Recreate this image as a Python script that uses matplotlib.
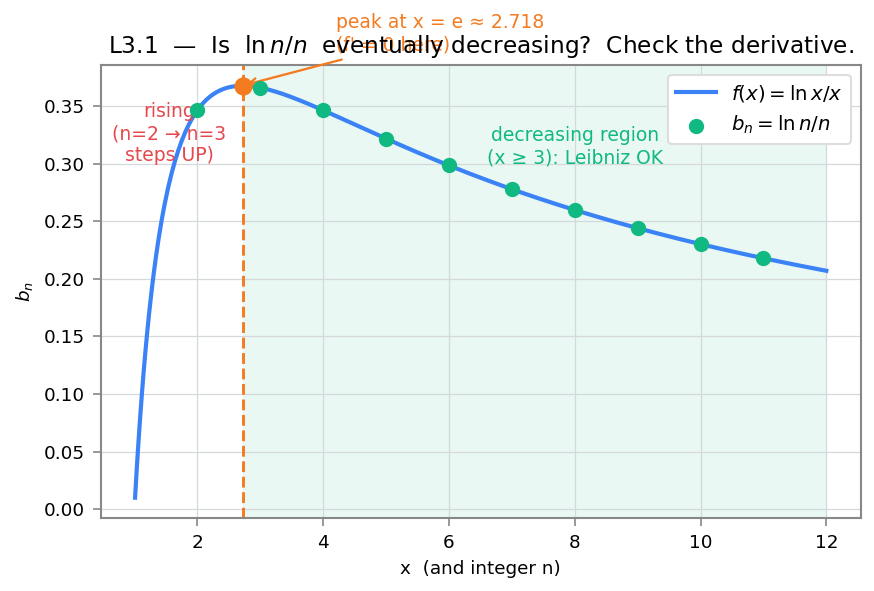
import numpy as np
import matplotlib
matplotlib.use("Agg")
import matplotlib.pyplot as plt

# Data
n_vals = [2, 3, 4, 5, 6, 7, 8, 9, 10, 11]
b_vals = [0.347, 0.366, 0.347, 0.322, 0.299, 0.278, 0.260, 0.244, 0.230, 0.218]
x_start, x_end = 1.01, 12.0
peak_x = 2.718
peak_y = 0.368

BLUE = "#3b82f6"
GREEN = "#10b981"
ORANGE = "#f47b20"
RED = "#e5484d"

plt.rcParams['font.family'] = ['DejaVu Sans']
fig, ax = plt.subplots(figsize=(874/150, 591/150), dpi=150)

x = np.linspace(x_start, x_end, 400)
fx = np.log(x) / x

ax.axvspan(peak_x, x_end, color=GREEN, alpha=0.09, lw=0, zorder=0)
ax.plot(x, fx, color=BLUE, lw=2, label=r"$f(x) = \ln x / x$", zorder=3)
ax.scatter(n_vals, b_vals, color=GREEN, s=40, zorder=4, label=r"$b_n = \ln n / n$")
ax.axvline(peak_x, color=ORANGE, ls="--", lw=1.4, zorder=2)
ax.scatter([peak_x], [peak_y], color=ORANGE, s=60, zorder=5)

ax.annotate("peak at x = e ≈ 2.718\n(f' = 0 here)", xy=(peak_x, peak_y),
            xytext=(4.2, 0.413), ha='left', va='center', color=ORANGE, fontsize=9,
            arrowprops=dict(arrowstyle='->', color=ORANGE, lw=1.1),
            annotation_clip=False)
ax.text(1.55, 0.326, "rising\n(n=2 → n=3\nsteps UP)", color=RED, ha='center', va='center',
        fontsize=9)
ax.text(8.0, 0.315, "decreasing region\n(x ≥ 3): Leibniz OK", color=GREEN, ha='center',
        va='center', fontsize=9)

ax.set_title(r"L3.1  —  Is  $\ln n/n$  eventually decreasing?  Check the derivative.",
             fontsize=11.2)
ax.set_xlabel("x  (and integer n)", fontsize=8.8)
ax.set_ylabel(r"$b_n$", fontsize=8.8)
ax.tick_params(labelsize=8.8, color="#888888", length=4)
ax.grid(True, color="#d5d9dd", lw=0.6)
ax.set_axisbelow(True)
for s in ax.spines.values():
    s.set_color("#888888")
    s.set_linewidth(1.0)
ax.legend(loc='upper right', fontsize=9.5, framealpha=1, edgecolor="#dddddd")

fig.subplots_adjust(left=0.115, right=0.985, top=0.89, bottom=0.123)
fig.savefig("out.png", dpi=150)
